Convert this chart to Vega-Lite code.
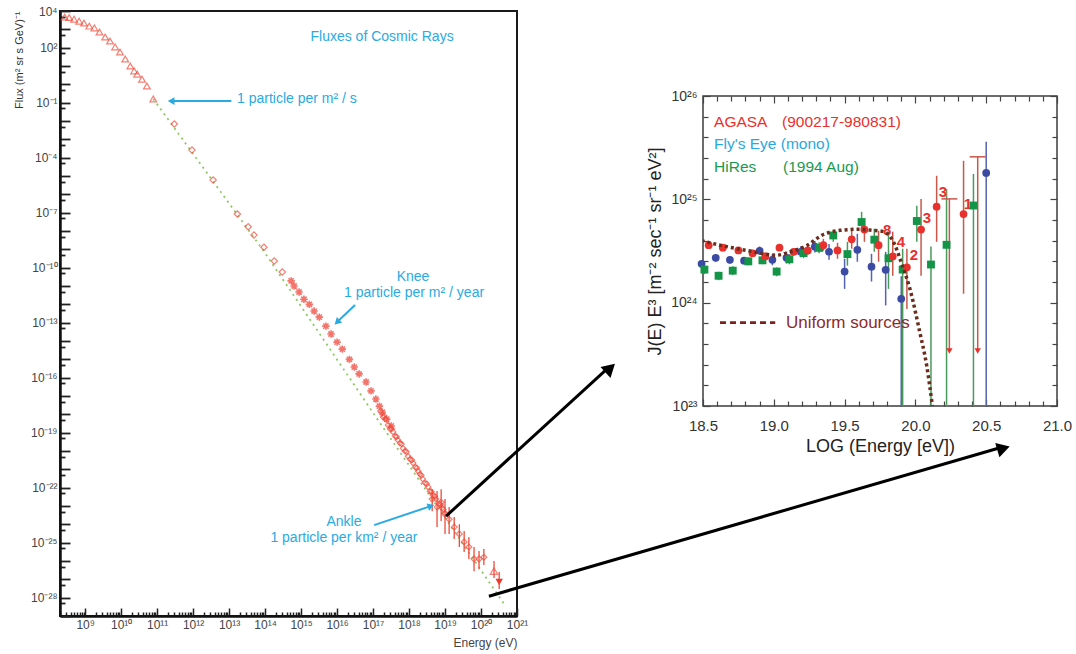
{
 "$schema": "https://vega.github.io/schema/vega-lite/v6.json",
 "padding": {"left": 12, "top": 4, "right": 5, "bottom": 5},
 "background": "white",
 "config": {"view": {"stroke": null}, "font": "Liberation Sans", "axis": {"grid": false}},
 "datasets": {
  "greenLine": [{"energy":7.8e10,"flux":0.16},{"energy":8.3e13,"flux":1.05e-9},{"energy":1.78e17,"flux":2.3e-19},{"energy":4.4e20,"flux":4.5e-29}],
  "triangles": [{"energy":2.7e8,"flux":4700},{"energy":3.6e8,"flux":4400},{"energy":4.9e8,"flux":3600},{"energy":6.8e8,"flux":2800},{"energy":9.3e8,"flux":2200},{"energy":1.3e9,"flux":1500},{"energy":1.8e9,"flux":1200},{"energy":2.5e9,"flux":710},{"energy":3.6e9,"flux":380},{"energy":4.9e9,"flux":230},{"energy":6.8e9,"flux":110},{"energy":9.3e9,"flux":58},{"energy":1.3e10,"flux":24},{"energy":1.8e10,"flux":10},{"energy":2.3e10,"flux":5.4},{"energy":2.8e10,"flux":3.6},{"energy":3.8e10,"flux":1.9},{"energy":5.2e10,"flux":0.81},{"energy":7.8e10,"flux":0.16}],
  "diamonds": [{"energy":3.0e11,"flux":6.9e-3},{"energy":9.3e11,"flux":2.6e-4},{"energy":3.6e12,"flux":6.0e-6},{"energy":1.7e13,"flux":8.5e-8},{"energy":3.4e13,"flux":1.7e-8},{"energy":4.9e13,"flux":6.0e-9},{"energy":9.3e13,"flux":1.3e-9},{"energy":1.8e14,"flux":2.3e-10},{"energy":3.0e14,"flux":5.8e-11}],
  "asterisks": [{"energy":5.3e14,"flux":1.9e-11},{"energy":6.4e14,"flux":1.0e-11},{"energy":8.8e14,"flux":4.7e-12},{"energy":1.2e15,"flux":1.9e-12},{"energy":1.7e15,"flux":1.0e-12},{"energy":2.3e15,"flux":4.3e-13},{"energy":3.2e15,"flux":2.0e-13},{"energy":4.9e15,"flux":6.5e-14},{"energy":6.8e15,"flux":2.4e-14},{"energy":1.0e16,"flux":8.7e-15},{"energy":1.4e16,"flux":3.6e-15},{"energy":2.2e16,"flux":1.0e-15},{"energy":3.0e16,"flux":3.8e-16},{"energy":4.1e16,"flux":1.6e-16},{"energy":6.4e16,"flux":5.8e-17},{"energy":8.8e16,"flux":1.9e-17},{"energy":1.2e17,"flux":6.8e-18},{"energy":1.5e17,"flux":2.8e-18},{"energy":1.8e17,"flux":1.3e-18},{"energy":2.4e17,"flux":5.5e-19},{"energy":3.2e17,"flux":2.3e-19}],
  "dense": [{"energy":1.6e17,"flux":1.5e-18},{"energy":1.9e17,"flux":7.1e-19},{"energy":2.2e17,"flux":5.5e-19},{"energy":2.6e17,"flux":2.6e-19},{"energy":3.0e17,"flux":1.6e-19},{"energy":3.6e17,"flux":1.1e-19},{"energy":4.1e17,"flux":6.5e-20},{"energy":4.9e17,"flux":4.0e-20},{"energy":5.6e17,"flux":2.7e-20},{"energy":6.8e17,"flux":1.4e-20},{"energy":7.7e17,"flux":1.0e-20},{"energy":9.4e17,"flux":5.2e-21},{"energy":1.07e18,"flux":3.6e-21},{"energy":1.3e18,"flux":2.2e-21},{"energy":1.5e18,"flux":1.3e-21},{"energy":1.8e18,"flux":7.9e-22},{"energy":2.0e18,"flux":5.5e-22},{"energy":2.4e18,"flux":3.0e-22},{"energy":2.8e18,"flux":1.8e-22},{"energy":3.4e18,"flux":1.1e-22},{"energy":3.8e18,"flux":6.5e-23},{"energy":4.6e18,"flux":4.0e-23},{"energy":5.6e18,"flux":2.4e-23},{"energy":6.8e18,"flux":1.3e-23},{"energy":8.3e18,"flux":7.8e-24},{"energy":1.0e19,"flux":4.1e-24},{"energy":2.0e17,"flux":8.5e-19},{"energy":3.3e17,"flux":1.6e-19},{"energy":4.5e17,"flux":6.0e-20},{"energy":6.2e17,"flux":2.4e-20},{"energy":8.5e17,"flux":9.0e-21},{"energy":1.2e18,"flux":3.2e-21},{"energy":1.65e18,"flux":1.2e-21},{"energy":2.2e18,"flux":4.6e-22},{"energy":3.1e18,"flux":1.6e-22},{"energy":4.2e18,"flux":6.0e-23},{"energy":5.2e18,"flux":3.4e-23},{"energy":7.5e18,"flux":1.2e-23},{"energy":9.0e18,"flux":6.5e-24}],
  "errPoints": [{"energy":4.4e18,"flux":2.4e-23},{"energy":6.0e18,"flux":8.7e-24},{"energy":7.8e18,"flux":1.6e-23},{"energy":1.0e19,"flux":3.6e-24},{"energy":1.3e19,"flux":1.9e-24},{"energy":1.8e19,"flux":7.1e-25},{"energy":2.5e19,"flux":3.0e-25},{"energy":3.4e19,"flux":1.1e-25},{"energy":4.6e19,"flux":5.8e-26},{"energy":6.4e19,"flux":1.3e-26},{"energy":8.8e19,"flux":1.3e-26},{"energy":1.2e20,"flux":1.6e-26}],
  "errBars": [{"energy":4.4e18,"flux":5.2e-24,"flux2":8.3e-23},{"energy":6.0e18,"flux":7.1e-25,"flux2":6.5e-23},{"energy":7.8e18,"flux":1.5e-24,"flux2":8.3e-23},{"energy":1.0e19,"flux":3.0e-25,"flux2":2.4e-23},{"energy":1.3e19,"flux":3.0e-25,"flux2":8.7e-24},{"energy":1.8e19,"flux":1.6e-25,"flux2":2.5e-24},{"energy":2.5e19,"flux":5.8e-26,"flux2":1.0e-24},{"energy":3.4e19,"flux":3.1e-26,"flux2":4.3e-25},{"energy":4.6e19,"flux":1.3e-26,"flux2":2.0e-25},{"energy":6.4e19,"flux":2.8e-27,"flux2":5.8e-26},{"energy":8.8e19,"flux":3.6e-27,"flux2":3.5e-26},{"energy":1.2e20,"flux":6.0e-27,"flux2":4.5e-26},{"energy":2.3e20,"flux":1.2e-27,"flux2":1.0e-26},{"energy":3.2e20,"flux":3.0e-28,"flux2":2.5e-27}],
  "openTri": [{"energy":2.3e20,"flux":2.8e-27}],
  "downTri": [{"energy":3.2e20,"flux":7.1e-28}],
  "cyanArrows": [{"energy":1.15e13,"flux":0.123,"energy2":2.8e11,"flux2":0.123},{"energy":3.16e16,"flux":9.1e-13,"energy2":1.15e16,"flux2":1.4e-13},{"energy":1.07e17,"flux":9.1e-25,"energy2":3.6e18,"flux2":9.2e-24}],
  "centerTexts": [{"energy":1.78e17,"flux":380,"label":"Fluxes of Cosmic Rays"},{"energy":1.29e18,"flux":3.1e-11,"label":"Knee"},{"energy":1.38e18,"flux":4.2e-12,"label":"1 particle per m² / year"},{"energy":1.55e16,"flux":1.32e-24,"label":"Ankle"},{"energy":1.55e16,"flux":1.78e-25,"label":"1 particle per km² / year"}],
  "leftTexts": [{"energy":1.66e13,"flux":0.158,"label":"1 particle per m² / s"}],
  "blackArrows": [{"energy":1.07e19,"flux":2.8e-24,"energy2":3.6e23,"flux2":3.8e-16},{"energy":1.66e20,"flux":1.2e-28,"energy2":2.95e34,"flux2":1.6e-20}],
  "agasa": [{"logE":18.54,"value":3.6e24},{"logE":18.64,"value":3.4e24},{"logE":18.75,"value":3.2e24},{"logE":18.85,"value":3.0e24},{"logE":18.94,"value":2.8e24},{"logE":19.04,"value":3.4e24},{"logE":19.14,"value":3.1e24},{"logE":19.24,"value":3.2e24},{"logE":19.35,"value":3.6e24},{"logE":19.45,"value":3.2e24},{"logE":19.55,"value":4.1e24},{"logE":19.64,"value":5.1e24},{"logE":19.74,"value":3.6e24},{"logE":19.84,"value":2.8e24},{"logE":19.94,"value":2.2e24},{"logE":20.04,"value":5.1e24},{"logE":20.15,"value":8.5e24},{"logE":20.34,"value":7.2e24}],
  "agasaBars": [{"logE":18.54,"value":3.35e24,"value2":3.9e24},{"logE":18.64,"value":3.15e24,"value2":3.65e24},{"logE":18.75,"value":3.0e24,"value2":3.45e24},{"logE":18.85,"value":2.8e24,"value2":3.25e24},{"logE":18.94,"value":2.6e24,"value2":3.05e24},{"logE":19.04,"value":3.15e24,"value2":3.65e24},{"logE":19.14,"value":2.85e24,"value2":3.35e24},{"logE":19.24,"value":2.9e24,"value2":3.5e24},{"logE":19.35,"value":3.18e24,"value2":4.15e24},{"logE":19.45,"value":2.66e24,"value2":3.8e24},{"logE":19.55,"value":3.33e24,"value2":4.97e24},{"logE":19.64,"value":3.88e24,"value2":6.5e24},{"logE":19.74,"value":2.49e24,"value2":4.97e24},{"logE":19.84,"value":1.82e24,"value2":4.86e24},{"logE":19.94,"value":8.7e23,"value2":3.33e24},{"logE":20.04,"value":1.82e24,"value2":1.01e25},{"logE":20.15,"value":3.88e24,"value2":1.69e25},{"logE":20.34,"value":1.22e24,"value2":2.36e25},{"logE":20.24,"value":3.4e23,"value2":1.01e25},{"logE":20.44,"value":3.4e23,"value2":2.58e25}],
  "agasaCaps": [{"logE":20.24,"value":1.01e25},{"logE":20.44,"value":2.58e25}],
  "agasaLim": [{"logE":20.24,"value":3.4e23},{"logE":20.44,"value":3.4e23}],
  "flyseye": [{"logE":18.49,"value":2.38e24},{"logE":18.59,"value":2.72e24},{"logE":18.69,"value":2.6e24},{"logE":18.79,"value":2.55e24},{"logE":18.9,"value":3.18e24},{"logE":18.99,"value":2.6e24},{"logE":19.09,"value":2.72e24},{"logE":19.19,"value":3.11e24},{"logE":19.29,"value":3.48e24},{"logE":19.39,"value":3.11e24},{"logE":19.5,"value":2.0e24},{"logE":19.59,"value":3.25e24},{"logE":19.69,"value":2.23e24},{"logE":19.79,"value":2.08e24},{"logE":19.9,"value":1.09e24},{"logE":20.5,"value":1.8e25}],
  "flyBars": [{"logE":18.49,"value":2.2e24,"value2":2.6e24},{"logE":18.59,"value":2.5e24,"value2":2.95e24},{"logE":18.69,"value":2.4e24,"value2":2.8e24},{"logE":18.79,"value":2.35e24,"value2":2.75e24},{"logE":18.9,"value":2.9e24,"value2":3.5e24},{"logE":18.99,"value":2.3e24,"value2":2.95e24},{"logE":19.09,"value":2.4e24,"value2":3.1e24},{"logE":19.19,"value":2.75e24,"value2":3.5e24},{"logE":19.29,"value":3.05e24,"value2":3.95e24},{"logE":19.39,"value":2.6e24,"value2":3.7e24},{"logE":19.5,"value":1.36e24,"value2":2.66e24},{"logE":19.59,"value":2.49e24,"value2":4.64e24},{"logE":19.69,"value":1.6e24,"value2":2.97e24},{"logE":19.79,"value":9.4e23,"value2":3.1e24},{"logE":19.9,"value":1e23,"value2":1.8e24},{"logE":20.5,"value":1e23,"value2":3.6e25}],
  "hires": [{"logE":18.51,"value":2.09e24},{"logE":18.61,"value":1.82e24},{"logE":18.71,"value":2.04e24},{"logE":18.82,"value":2.51e24},{"logE":18.92,"value":2.57e24},{"logE":19.02,"value":2.0e24},{"logE":19.11,"value":2.63e24},{"logE":19.21,"value":3.02e24},{"logE":19.32,"value":3.39e24},{"logE":19.42,"value":4.47e24},{"logE":19.52,"value":2.95e24},{"logE":19.62,"value":6.03e24},{"logE":19.71,"value":4.07e24},{"logE":19.81,"value":2.69e24},{"logE":19.91,"value":2.09e24},{"logE":20.01,"value":6.17e24},{"logE":20.11,"value":2.34e24},{"logE":20.22,"value":3.63e24},{"logE":20.41,"value":8.71e24}],
  "hiresBars": [{"logE":18.51,"value":1.9e24,"value2":2.3e24},{"logE":18.61,"value":1.65e24,"value2":2.0e24},{"logE":18.71,"value":1.85e24,"value2":2.25e24},{"logE":18.82,"value":2.3e24,"value2":2.75e24},{"logE":18.92,"value":2.35e24,"value2":2.8e24},{"logE":19.02,"value":1.8e24,"value2":2.2e24},{"logE":19.11,"value":2.35e24,"value2":2.95e24},{"logE":19.21,"value":2.7e24,"value2":3.4e24},{"logE":19.32,"value":3.0e24,"value2":3.85e24},{"logE":19.42,"value":3.88e24,"value2":4.97e24},{"logE":19.52,"value":2.28e24,"value2":3.88e24},{"logE":19.62,"value":4.86e24,"value2":7.57e24},{"logE":19.71,"value":3.11e24,"value2":5.19e24},{"logE":19.81,"value":1.36e24,"value2":4.86e24},{"logE":19.91,"value":1e23,"value2":3.33e24},{"logE":20.01,"value":3.88e24,"value2":8.65e24},{"logE":20.11,"value":1e23,"value2":3.5e24},{"logE":20.22,"value":1e23,"value2":1.26e25},{"logE":20.41,"value":1e23,"value2":1.76e25}],
  "uniform": [{"logE":18.49,"value":3.98e24},{"logE":18.64,"value":3.55e24},{"logE":18.83,"value":3.16e24},{"logE":19.02,"value":2.88e24},{"logE":19.11,"value":3.09e24},{"logE":19.23,"value":3.55e24},{"logE":19.35,"value":4.57e24},{"logE":19.47,"value":5.01e24},{"logE":19.59,"value":5.13e24},{"logE":19.7,"value":5.01e24},{"logE":19.77,"value":4.9e24},{"logE":19.84,"value":3.98e24},{"logE":19.91,"value":2.24e24},{"logE":19.96,"value":1.38e24},{"logE":20.03,"value":5.25e23},{"logE":20.08,"value":2.45e23},{"logE":20.12,"value":1.0e23}],
  "numbers": [{"logE":19.8,"value":5.07e24,"label":"8"},{"logE":19.898,"value":3.88e24,"label":"4"},{"logE":19.99,"value":2.91e24,"label":"2"},{"logE":20.082,"value":6.62e24,"label":"3"},{"logE":20.195,"value":1.18e25,"label":"3"},{"logE":20.371,"value":9.06e24,"label":"1"}]
 },
 "bounds": "flush",
 "spacing": 186,
 "hconcat": [
  {
   "width": 457, "height": 605,
   "view": {"stroke": "#1a1a1a", "strokeWidth": 2},
   "encoding": {
    "x": {"field": "energy", "type": "quantitative", "scale": {"type": "log", "domain": [2e8, 1e21], "nice": false},
     "axis": {"values": [2e8,3e8,4e8,5e8,6e8,7e8,8e8,9e8,1e9,2e9,3e9,4e9,5e9,6e9,7e9,8e9,9e9,1e10,2e10,3e10,4e10,5e10,6e10,7e10,8e10,9e10,1e11,2e11,3e11,4e11,5e11,6e11,7e11,8e11,9e11,1e12,2e12,3e12,4e12,5e12,6e12,7e12,8e12,9e12,1e13,2e13,3e13,4e13,5e13,6e13,7e13,8e13,9e13,1e14,2e14,3e14,4e14,5e14,6e14,7e14,8e14,9e14,1e15,2e15,3e15,4e15,5e15,6e15,7e15,8e15,9e15,1e16,2e16,3e16,4e16,5e16,6e16,7e16,8e16,9e16,1e17,2e17,3e17,4e17,5e17,6e17,7e17,8e17,9e17,1e18,2e18,3e18,4e18,5e18,6e18,7e18,8e18,9e18,1e19,2e19,3e19,4e19,5e19,6e19,7e19,8e19,9e19,1e20,2e20,3e20,4e20,5e20,6e20,7e20,8e20,9e20,1e21],
      "labelExpr": "abs(log(datum.value)/LN10 - round(log(datum.value)/LN10)) < 0.001 ? '10' + replace(replace(replace(replace(replace(replace(replace(replace(replace(replace(replace(toString(round(log(datum.value)/LN10)),'-','⁻'),regexp('0','g'),'⁰'),regexp('1','g'),'¹'),regexp('2','g'),'²'),regexp('3','g'),'³'),regexp('4','g'),'⁴'),regexp('5','g'),'⁵'),regexp('6','g'),'⁶'),regexp('7','g'),'⁷'),regexp('8','g'),'⁸'),regexp('9','g'),'⁹') : ''",
      "tickSize": {"condition": {"test": "abs(log(datum.value)/LN10 - round(log(datum.value)/LN10)) < 0.001", "value": -8}, "value": -4},
      "tickColor": "#222", "tickWidth": 1.5, "domainColor": "#111", "domainWidth": 2.5,
      "labelFontSize": 12, "labelColor": "#444", "labelPadding": 11, "labelFlush": false, "labelOverlap": false,
      "title": "Energy (eV)", "titleAnchor": "end", "titleFontSize": 12, "titleFontWeight": "normal", "titleColor": "#444", "titlePadding": 3}},
    "y": {"field": "flux", "type": "quantitative", "scale": {"type": "log", "domain": [1e-29, 1e4], "nice": false},
     "axis": {"values": [1e-29,5e-29,1e-28,5e-28,1e-27,5e-27,1e-26,5e-26,1e-25,5e-25,1e-24,5e-24,1e-23,5e-23,1e-22,5e-22,1e-21,5e-21,1e-20,5e-20,1e-19,5e-19,1e-18,5e-18,1e-17,5e-17,1e-16,5e-16,1e-15,5e-15,1e-14,5e-14,1e-13,5e-13,1e-12,5e-12,1e-11,5e-11,1e-10,5e-10,1e-9,5e-9,1e-8,5e-8,1e-7,5e-7,1e-6,5e-6,1e-5,5e-5,1e-4,5e-4,1e-3,5e-3,0.01,0.05,0.1,0.5,1,5,10,50,100,500,1000,5000,10000],
      "labelExpr": "abs(log(datum.value)/LN10 - round(log(datum.value)/LN10)) < 0.001 && ((round(log(datum.value)/LN10) + 1) % 3 == 0 || round(log(datum.value)/LN10) == 4) ? '10' + replace(replace(replace(replace(replace(replace(replace(replace(replace(replace(replace(toString(round(log(datum.value)/LN10)),'-','⁻'),regexp('0','g'),'⁰'),regexp('1','g'),'¹'),regexp('2','g'),'²'),regexp('3','g'),'³'),regexp('4','g'),'⁴'),regexp('5','g'),'⁵'),regexp('6','g'),'⁶'),regexp('7','g'),'⁷'),regexp('8','g'),'⁸'),regexp('9','g'),'⁹') : ''",
      "tickSize": {"condition": {"test": "abs(log(datum.value)/LN10 - round(log(datum.value)/LN10)) < 0.001", "value": -10}, "value": -5},
      "tickColor": "#222", "tickWidth": 1.8, "domainColor": "#111", "domainWidth": 2.5,
      "labelFontSize": 12, "labelColor": "#444", "labelPadding": 13, "labelFlush": false, "labelOverlap": false,
      "title": "Flux (m² sr s GeV)⁻¹", "titleAnchor": "end", "titleFontSize": 11, "titleFontWeight": "normal", "titleColor": "#333", "titlePadding": 6}}
   },
   "layer": [
    {"data": {"name": "greenLine"}, "mark": {"type": "line", "color": "#8dc865", "strokeDash": [2, 4], "strokeWidth": 1.8, "clip": true}},
    {"data": {"name": "triangles"}, "mark": {"type": "point", "shape": "triangle-up", "filled": false, "color": "#ef4a3a", "size": 45, "strokeWidth": 1.2}},
    {"data": {"name": "diamonds"}, "mark": {"type": "point", "shape": "diamond", "filled": false, "color": "#ef4a3a", "size": 40, "strokeWidth": 1.2}},
    {"data": {"name": "asterisks"}, "mark": {"type": "point", "shape": "M-1,0L1,0M0,-1L0,1M-0.7,-0.7L0.7,0.7M-0.7,0.7L0.7,-0.7", "filled": false, "color": "#ee3b2e", "size": 55, "strokeWidth": 1.6}},
    {"data": {"name": "dense"}, "mark": {"type": "point", "shape": "diamond", "filled": false, "color": "#ef4a3a", "size": 30, "strokeWidth": 1.2}},
    {"data": {"name": "errBars"}, "mark": {"type": "rule", "color": "#ef4a3a", "strokeWidth": 1.3}, "encoding": {"y2": {"field": "flux2"}}},
    {"data": {"name": "errPoints"}, "mark": {"type": "point", "shape": "diamond", "filled": false, "color": "#ef4a3a", "size": 35, "strokeWidth": 1.2}},
    {"data": {"name": "openTri"}, "mark": {"type": "point", "shape": "triangle-up", "filled": false, "color": "#ef4a3a", "size": 55, "strokeWidth": 1.2}},
    {"data": {"name": "downTri"}, "mark": {"type": "point", "shape": "triangle-down", "filled": true, "color": "#ef3a2a", "size": 55, "opacity": 1}},
    {"data": {"name": "cyanArrows"}, "mark": {"type": "rule", "color": "#29abe2", "strokeWidth": 2},
     "encoding": {"x2": {"field": "energy2"}, "y2": {"field": "flux2"}}},
    {"data": {"values": [{"energy": 2.45e11, "flux": 0.123}]}, "mark": {"type": "point", "shape": "triangle-up", "filled": true, "color": "#29abe2", "size": 60, "angle": 270, "opacity": 1}},
    {"data": {"values": [{"energy": 1.0e16, "flux": 1.07e-13}]}, "mark": {"type": "point", "shape": "triangle-up", "filled": true, "color": "#29abe2", "size": 60, "angle": 226.6, "opacity": 1}},
    {"data": {"values": [{"energy": 4.07e18, "flux": 1.0e-23}]}, "mark": {"type": "point", "shape": "triangle-up", "filled": true, "color": "#29abe2", "size": 60, "angle": 71.6, "opacity": 1}},
    {"data": {"name": "centerTexts"}, "mark": {"type": "text", "color": "#29abe2", "fontSize": 14, "align": "center", "baseline": "middle"}, "encoding": {"text": {"field": "label"}}},
    {"data": {"name": "leftTexts"}, "mark": {"type": "text", "color": "#29abe2", "fontSize": 14, "align": "left", "baseline": "middle"}, "encoding": {"text": {"field": "label"}}},
    {"data": {"name": "blackArrows"}, "mark": {"type": "rule", "color": "#000000", "strokeWidth": 3, "clip": false},
     "encoding": {"x2": {"field": "energy2"}, "y2": {"field": "flux2"}}},
    {"data": {"values": [{"energy": 3.9e23, "flux": 3.3e-16}]}, "mark": {"type": "point", "shape": "triangle-up", "filled": true, "color": "#000000", "size": 220, "angle": 47.5, "opacity": 1}},
    {"data": {"values": [{"energy": 3.3e34, "flux": 1.4e-20}]}, "mark": {"type": "point", "shape": "triangle-up", "filled": true, "color": "#000000", "size": 220, "angle": 73.7, "opacity": 1}}
   ]
  },
  {
   "bounds": "flush",
   "spacing": 20,
   "vconcat": [
    {"width": 354, "height": 65, "data": {"values": [{}]}, "mark": {"type": "text"}, "encoding": {"text": {"value": ""}}},
    {
     "width": 354, "height": 310,
     "view": {"stroke": "#3c3c3c", "strokeWidth": 1.5},
     "resolve": {"axis": {"x": "independent", "y": "independent"}},
     "layer": [
      {
       "encoding": {
        "x": {"field": "logE", "type": "quantitative", "scale": {"domain": [18.5, 21.0], "nice": false, "zero": false},
         "axis": {"orient": "bottom", "values": [18.5,18.6,18.7,18.8,18.9,19.0,19.1,19.2,19.3,19.4,19.5,19.6,19.7,19.8,19.9,20.0,20.1,20.2,20.3,20.4,20.5,20.6,20.7,20.8,20.9,21.0],
          "labelExpr": "abs(datum.value*2 - round(datum.value*2)) < 0.001 ? format(datum.value, '.1f') : ''",
          "tickSize": {"condition": {"test": "abs(datum.value*2 - round(datum.value*2)) < 0.001", "value": -7}, "value": -5},
          "domain": false, "tickColor": "#444", "tickWidth": 1.2, "labelFontSize": 15, "labelColor": "#333", "labelPadding": 19, "labelFlush": false, "labelOverlap": false,
          "title": "LOG (Energy [eV])", "titleFontSize": 18, "titleFontWeight": "normal", "titleColor": "#222", "titlePadding": 2}},
        "y": {"field": "value", "type": "quantitative", "scale": {"type": "log", "domain": [1e23, 1e26], "nice": false},
         "axis": {"orient": "left", "values": [1e23,1.585e23,2.512e23,3.981e23,6.31e23,1e24,1.585e24,2.512e24,3.981e24,6.31e24,1e25,1.585e25,2.512e25,3.981e25,6.31e25,1e26],
          "labelExpr": "abs(log(datum.value)/LN10 - round(log(datum.value)/LN10)) < 0.001 ? '10' + replace(replace(replace(replace(replace(replace(replace(replace(replace(replace(replace(toString(round(log(datum.value)/LN10)),'-','⁻'),regexp('0','g'),'⁰'),regexp('1','g'),'¹'),regexp('2','g'),'²'),regexp('3','g'),'³'),regexp('4','g'),'⁴'),regexp('5','g'),'⁵'),regexp('6','g'),'⁶'),regexp('7','g'),'⁷'),regexp('8','g'),'⁸'),regexp('9','g'),'⁹') : ''",
          "tickSize": {"condition": {"test": "abs(log(datum.value)/LN10 - round(log(datum.value)/LN10)) < 0.001", "value": -7}, "value": -5},
          "domain": false, "tickColor": "#444", "tickWidth": 1.2, "labelFontSize": 14, "labelColor": "#333", "labelPadding": 13, "labelFlush": false, "labelOverlap": false,
          "title": "J(E) E³ [m⁻² sec⁻¹ sr⁻¹ eV²]", "titleFontSize": 18, "titleFontWeight": "normal", "titleColor": "#222", "titlePadding": 6}}
       },
       "layer": [
        {"data": {"name": "flyBars"}, "mark": {"type": "rule", "color": "#5563b0", "strokeWidth": 1.5, "clip": true}, "encoding": {"y2": {"field": "value2"}}},
        {"data": {"name": "hiresBars"}, "mark": {"type": "rule", "color": "#4a9a5c", "strokeWidth": 1.5, "clip": true}, "encoding": {"y2": {"field": "value2"}}},
        {"data": {"name": "agasaBars"}, "mark": {"type": "rule", "color": "#c9574b", "strokeWidth": 1.5, "clip": true}, "encoding": {"y2": {"field": "value2"}}},
        {"data": {"name": "agasaCaps"}, "mark": {"type": "tick", "orient": "horizontal", "color": "#c9574b", "thickness": 1.5, "size": 16, "opacity": 1}},
        {"data": {"name": "agasaLim"}, "mark": {"type": "point", "shape": "triangle-down", "filled": true, "color": "#e8302c", "size": 40, "opacity": 1}},
        {"data": {"name": "numbers"}, "mark": {"type": "text", "color": "#e8302c", "fontSize": 15, "fontWeight": "bold", "align": "center", "baseline": "middle"}, "encoding": {"text": {"field": "label"}}},
        {"data": {"name": "flyseye"}, "mark": {"type": "point", "shape": "circle", "filled": true, "color": "#3b4ba3", "size": 60, "opacity": 1}},
        {"data": {"name": "hires"}, "mark": {"type": "point", "shape": "square", "filled": true, "color": "#139447", "size": 62, "opacity": 1}},
        {"data": {"name": "agasa"}, "mark": {"type": "point", "shape": "circle", "filled": true, "color": "#e8302c", "size": 60, "opacity": 1}},
        {"data": {"name": "uniform"}, "mark": {"type": "line", "color": "#6b2c1c", "strokeDash": [3, 3], "strokeWidth": 3.5, "clip": true, "interpolate": "monotone"}},
        {"data": {"values": [{"logE": 18.578, "value": 5.61e25, "label": "AGASA"}, {"logE": 19.058, "value": 5.61e25, "label": "(900217-980831)"}]}, "mark": {"type": "text", "color": "#e8302c", "fontSize": 15.5, "align": "left", "baseline": "middle"}, "encoding": {"text": {"field": "label"}}},
        {"data": {"values": [{"logE": 18.578, "value": 3.44e25, "label": "Fly's Eye (mono)"}]}, "mark": {"type": "text", "color": "#29a8e0", "fontSize": 15.5, "align": "left", "baseline": "middle"}, "encoding": {"text": {"field": "label"}}},
        {"data": {"values": [{"logE": 18.578, "value": 2.06e25, "label": "HiRes"}, {"logE": 19.065, "value": 2.06e25, "label": "(1994 Aug)"}]}, "mark": {"type": "text", "color": "#1a9a50", "fontSize": 15.5, "align": "left", "baseline": "middle"}, "encoding": {"text": {"field": "label"}}},
        {"data": {"values": [{"logE": 18.62, "value": 6.4e23}, {"logE": 19.01, "value": 6.4e23}]}, "mark": {"type": "line", "color": "#7d2020", "strokeDash": [6, 4], "strokeWidth": 2.8}},
        {"data": {"values": [{"logE": 19.086, "value": 6.4e23, "label": "Uniform sources"}]}, "mark": {"type": "text", "color": "#8e2b2b", "fontSize": 17, "align": "left", "baseline": "middle"}, "encoding": {"text": {"field": "label"}}}
       ]
      },
      {
       "data": {"values": [{"logE": 18.5, "value": 1e23}]},
       "mark": {"type": "point", "opacity": 0},
       "encoding": {
        "x": {"field": "logE", "type": "quantitative", "scale": {"domain": [18.5, 21.0], "nice": false, "zero": false},
         "axis": {"orient": "top", "values": [18.5,18.6,18.7,18.8,18.9,19.0,19.1,19.2,19.3,19.4,19.5,19.6,19.7,19.8,19.9,20.0,20.1,20.2,20.3,20.4,20.5,20.6,20.7,20.8,20.9,21.0], "labels": false, "domain": false, "title": null, "tickColor": "#444", "tickWidth": 1.2,
          "tickSize": {"condition": {"test": "abs(datum.value*2 - round(datum.value*2)) < 0.001", "value": -7}, "value": -5}}},
        "y": {"field": "value", "type": "quantitative", "scale": {"type": "log", "domain": [1e23, 1e26], "nice": false},
         "axis": {"orient": "right", "values": [1e23,1.585e23,2.512e23,3.981e23,6.31e23,1e24,1.585e24,2.512e24,3.981e24,6.31e24,1e25,1.585e25,2.512e25,3.981e25,6.31e25,1e26], "labels": false, "domain": false, "title": null, "tickColor": "#444", "tickWidth": 1.2,
          "tickSize": {"condition": {"test": "abs(log(datum.value)/LN10 - round(log(datum.value)/LN10)) < 0.001", "value": -7}, "value": -5}}}
       }
      }
     ]
    }
   ]
  }
 ]
}
